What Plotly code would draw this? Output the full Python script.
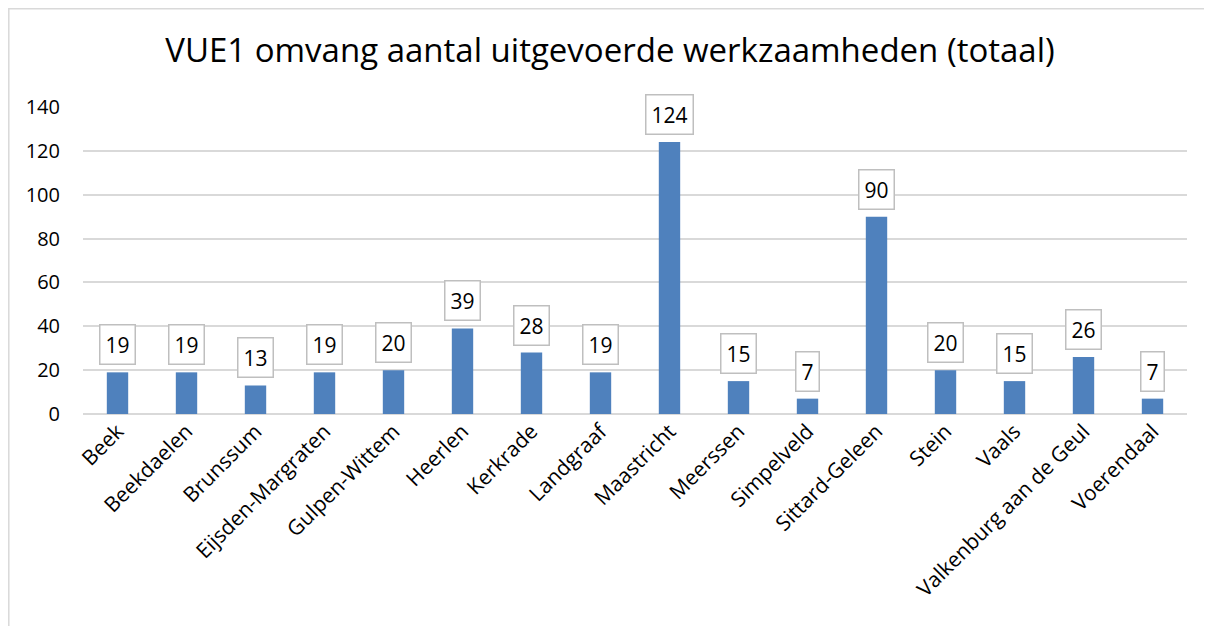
import plotly.graph_objects as go

categories = ["Beek", "Beekdaelen", "Brunssum", "Eijsden-Margraten", "Gulpen-Wittem",
              "Heerlen", "Kerkrade", "Landgraaf", "Maastricht", "Meerssen", "Simpelveld",
              "Sittard-Geleen", "Stein", "Vaals", "Valkenburg aan de Geul", "Voerendaal"]
values = [19, 19, 13, 19, 20, 39, 28, 19, 124, 15, 7, 90, 20, 15, 26, 7]
y_ticks = [0, 20, 40, 60, 80, 100, 120, 140]
title_text = "VUE1 omvang aantal uitgevoerde werkzaamheden (totaal)"

W, H = 1212, 626
OFF = 8  # page offset of the figure inside the window
ML, MR, MT, MB = 83 - OFF, 25 + OFF, 107 - OFF, 212 + OFF
FONT = "Open Sans"

fig = go.Figure()
fig.add_trace(go.Bar(
    x=categories, y=values,
    marker=dict(color="#4F81BD", line=dict(width=0)),
    hoverinfo="x+y",
))

annotations = []
for c, v in zip(categories, values):
    annotations.append(dict(
        x=c, y=v, xref="x", yref="y", text=str(v), showarrow=False,
        yanchor="bottom", yshift=7,
        font=dict(family=FONT, size=21, color="#000000"),
        bgcolor="#ffffff", bordercolor="#bfbfbf", borderwidth=1.5, borderpad=5,
    ))

pw = W - ML - MR
ph = H - MT - MB
def px_x(p): return (p - ML) / pw
def px_y(p): return (H - MB - p) / ph

shapes = [dict(
    type="path", xref="paper", yref="paper",
    path=f"M {px_x(0.8)},{px_y(H)} L {px_x(0.8)},{px_y(0.8)} L {px_x(W)},{px_y(0.8)}",
    line=dict(color="#d9d9d9", width=1.5),
)]

fig.update_layout(
    width=W, height=H,
    margin=dict(l=ML, r=MR, t=MT, b=MB, autoexpand=False),
    paper_bgcolor="#ffffff", plot_bgcolor="#ffffff",
    title=dict(text=title_text, x=(610 - OFF) / W, xref="container", xanchor="center",
               y=1 - (50 - OFF) / H, yref="container", yanchor="middle",
               font=dict(family=FONT, size=33, color="#000000")),
    bargap=0.69,
    showlegend=False,
    annotations=annotations,
    shapes=shapes,
    font=dict(family=FONT, color="#000000"),
)
fig.update_xaxes(
    tickangle=-45, tickfont=dict(family=FONT, size=21, color="#000000"),
    showgrid=False, showline=False, ticks="",
)
fig.update_yaxes(
    range=[0, 140], tickvals=y_ticks, ticktext=[str(t) for t in y_ticks],
    showgrid=True, gridcolor="#d9d9d9", gridwidth=1.5,
    zeroline=True, zerolinecolor="#d9d9d9", zerolinewidth=1.5,
    showline=False, ticks="", ticklabelstandoff=22,
    tickfont=dict(family=FONT, size=20, color="#000000"),
)

fig.write_html("out.html")
